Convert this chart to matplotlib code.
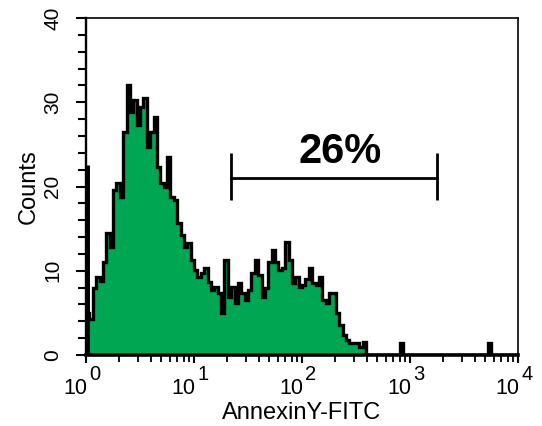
import matplotlib; matplotlib.use("Agg")
import matplotlib.pyplot as plt
import numpy as np
from matplotlib.ticker import MultipleLocator, LogLocator, NullFormatter

plt.rcParams["font.family"] = ["Liberation Sans", "DejaVu Sans"]

# histogram: 32 channels per decade, 10^0 .. 10^4
BINS_PER_DECADE = 32
DECADES = [0, 1, 2, 3, 4]
OFFSCALE = 22.5          # events piled up in the very first channel
COUNTS = [5.0, 4.3, 8.0, 9.3, 8.8, 11.0, 14.5, 12.8, 19.6, 20.4,
          18.8, 26.5, 32.0, 28.8, 30.3, 27.3, 29.4, 30.5, 24.7, 26.5,
          28.3, 22.3, 20.4, 20.0, 23.5, 18.8, 18.4, 15.7, 14.2, 12.8,
          13.3, 11.3, 10.1, 9.3, 9.7, 10.3, 8.7, 7.7, 8.1, 7.4,
          5.0, 11.3, 6.9, 8.1, 6.2, 8.5, 7.4, 6.5, 7.7, 9.7,
          11.3, 9.5, 6.9, 7.9, 11.0, 12.5, 11.0, 10.1, 10.3, 13.4,
          11.3, 8.5, 9.3, 8.1, 8.3, 9.0, 10.3, 8.5, 8.3, 9.3,
          6.5, 6.2, 7.4, 7.4, 5.0, 3.6, 2.4, 1.8, 1.4, 1.4,
          1.4, 1.0, 1.5,
          0, 0, 0, 0, 0, 0, 0, 0, 0, 0, 1.4,
          0, 0, 0, 0, 0, 0, 0, 0, 0, 0, 0, 0, 0, 0, 0, 0, 0, 0, 0, 0, 0, 0, 0, 0, 0,
          1.4, 0, 0, 0, 0, 0, 0, 0, 0]
YTICKS = [0, 10, 20, 30, 40]
GATE = (22, 1780)        # marker region
GATE_Y = 21
GATE_PCT = "26%"
PCT_X = 225
XLABEL = "AnnexinY-FITC"
YLABEL = "Counts"
GREEN = "#00a651"


def main():
    edges = 10 ** (np.arange(len(COUNTS) + 1) / BINS_PER_DECADE)
    fig = plt.figure(figsize=(5.42, 4.26), dpi=100)
    ax = fig.add_axes([86 / 542, 71 / 426, 432 / 542, 337 / 426])
    ax.set_xscale("log")

    ax.stairs(COUNTS, edges, fill=True, color=GREEN, lw=0)
    ax.stairs(COUNTS, edges, color="k", lw=2.4)
    ax.vlines(1.0, 0, OFFSCALE, color="k", lw=5)

    # marker bar
    ax.plot(GATE, [GATE_Y, GATE_Y], color="k", lw=2)
    ax.vlines(GATE, GATE_Y - 2.6, GATE_Y + 3.0, color="k", lw=2)
    ax.text(PCT_X, GATE_Y + 1.8, GATE_PCT, ha="center", va="baseline",
            fontsize=30, fontweight="bold")

    ax.set_xlim(10 ** DECADES[0], 10 ** DECADES[-1]); ax.set_ylim(YTICKS[0], YTICKS[-1])
    ax.set_yticks(YTICKS); ax.yaxis.set_minor_locator(MultipleLocator(2))
    ax.xaxis.set_major_locator(LogLocator(base=10, numticks=10))
    ax.xaxis.set_minor_locator(LogLocator(base=10, subs=np.arange(2, 10), numticks=20))
    ax.xaxis.set_major_formatter(NullFormatter()); ax.xaxis.set_minor_formatter(NullFormatter())
    ax.tick_params(axis="y", which="major", direction="out", length=7, width=1.5,
                   labelsize=15, labelrotation=90, pad=10)
    ax.tick_params(axis="y", which="minor", direction="out", length=6, width=1.5)
    ax.tick_params(axis="x", which="major", direction="out", length=6, width=1.5)
    ax.tick_params(axis="x", which="minor", direction="out", length=5, width=1.3)
    for lab in ax.get_yticklabels():
        lab.set_verticalalignment("center")

    # 10^n labels with big exponents
    for d in DECADES:
        ax.annotate("10", xy=(10 ** d, 0), xycoords=("data", "axes fraction"),
                    xytext=(1.0, -28), textcoords="offset points", ha="right", va="baseline", fontsize=15.5)
        ax.annotate(str(d), xy=(10 ** d, 0), xycoords=("data", "axes fraction"),
                    xytext=(2.4, -18), textcoords="offset points", ha="left", va="baseline", fontsize=14.5)

    ax.set_xlabel(XLABEL, fontsize=17); ax.xaxis.set_label_coords(0.5, -0.139)
    ax.set_ylabel(YLABEL, fontsize=17); ax.yaxis.set_label_coords(-0.106, 0.5)

    ax.spines["left"].set_linewidth(1.7); ax.spines["bottom"].set_linewidth(2.6)
    ax.spines["top"].set_linewidth(1.2); ax.spines["right"].set_linewidth(1.2)
    for s in ax.spines.values():
        s.set_zorder(5)

    fig.savefig("out.png", dpi=100)


if __name__ == "__main__":
    main()
